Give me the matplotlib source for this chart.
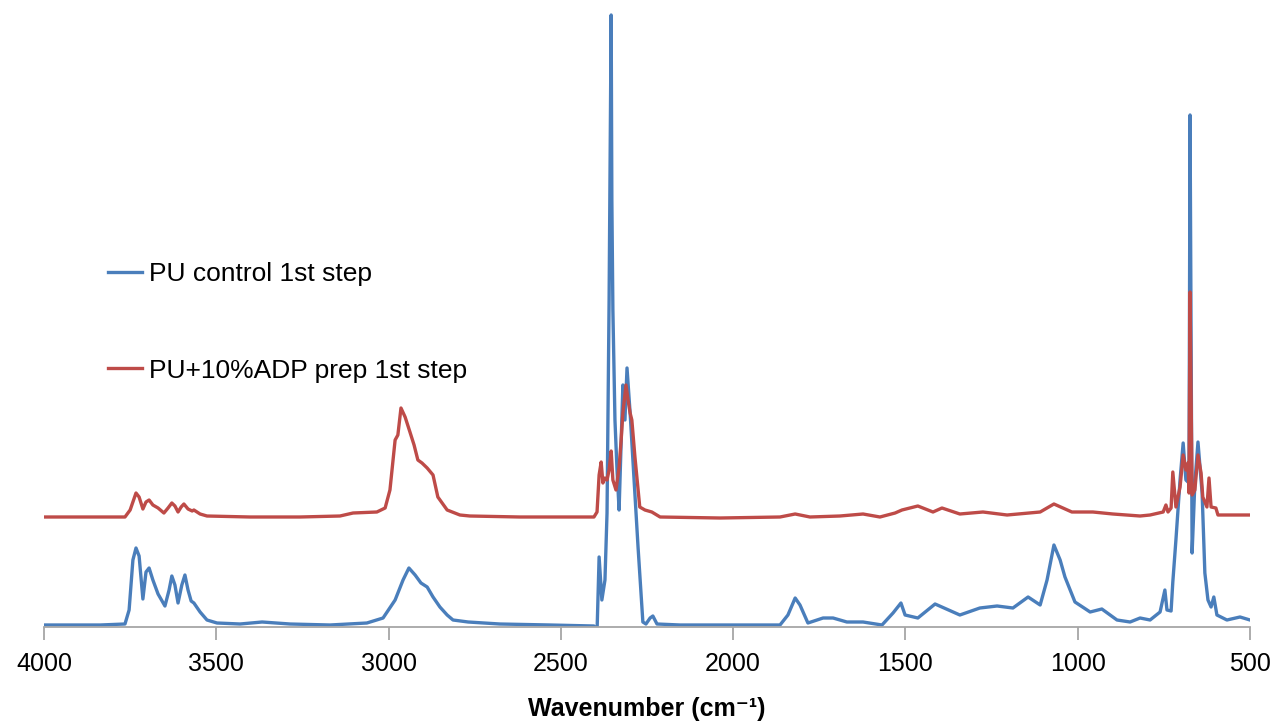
import matplotlib
matplotlib.use('Agg')
import matplotlib.pyplot as plt
import numpy as np

# FTIR spectra (wavenumber cm-1, absorbance a.u.)
wn_control = [4000, 3837, 3765, 3753, 3742, 3733, 3724, 3718, 3713, 3704, 3695, 3684, 3669, 3649,
              3637, 3629, 3620, 3611, 3600, 3591, 3582, 3573, 3565, 3547, 3527, 3498, 3431, 3367,
              3286, 3170, 3063, 3016, 2981, 2958, 2941, 2923, 2906, 2888, 2871, 2851, 2830, 2813,
              2769, 2677, 2531, 2404, 2395, 2389, 2381, 2372, 2366, 2360, 2354, 2352, 2349, 2343,
              2337, 2331, 2325, 2320, 2314, 2308, 2299, 2291, 2276, 2262, 2253, 2241, 2233, 2221,
              2154, 2038, 1922, 1864, 1841, 1820, 1806, 1783, 1739, 1710, 1670, 1623, 1568, 1536,
              1513, 1501, 1464, 1414, 1342, 1284, 1234, 1188, 1144, 1109, 1089, 1069, 1051, 1037,
              1008, 964, 930, 886, 848, 819, 790, 761, 747, 741, 729, 724, 715, 703, 694, 686,
              677, 674, 668, 660, 651, 639, 631, 622, 613, 605, 596, 567, 529, 500]
abs_control = [0.02, 0.02, 0.03, 0.17, 0.67, 0.79, 0.71, 0.47, 0.28, 0.55, 0.59, 0.47, 0.33, 0.21,
               0.37, 0.51, 0.42, 0.24, 0.42, 0.52, 0.37, 0.26, 0.24, 0.15, 0.07, 0.04, 0.03, 0.05,
               0.03, 0.02, 0.04, 0.09, 0.27, 0.47, 0.59, 0.52, 0.44, 0.40, 0.30, 0.20, 0.12, 0.07,
               0.05, 0.03, 0.02, 0.01, -0.05, 0.70, 0.27, 0.47, 1.14, 3.27, 6.12, 4.27, 3.17, 2.07,
               1.57, 1.17, 1.87, 2.42, 2.07, 2.59, 2.14, 1.67, 0.80, 0.05, 0.03, 0.09, 0.11, 0.03,
               0.02, 0.02, 0.02, 0.02, 0.12, 0.29, 0.22, 0.04, 0.09, 0.09, 0.05, 0.05, 0.02, 0.14,
               0.24, 0.12, 0.09, 0.23, 0.12, 0.19, 0.21, 0.19, 0.30, 0.22, 0.47, 0.82, 0.67, 0.50,
               0.25, 0.15, 0.18, 0.07, 0.05, 0.09, 0.07, 0.15, 0.37, 0.17, 0.16, 0.45, 0.87, 1.47,
               1.84, 1.47, 1.44, 5.12, 0.74, 1.44, 1.85, 1.34, 0.54, 0.27, 0.20, 0.30, 0.12, 0.07,
               0.10, 0.07]

wn_adp = [4000, 3765, 3750, 3733, 3724, 3713, 3704, 3695, 3684, 3669, 3652, 3640, 3629, 3620,
          3611, 3602, 3594, 3582, 3570, 3565, 3547, 3527, 3402, 3257, 3141, 3103, 3034, 3010,
          2996, 2981, 2973, 2964, 2952, 2938, 2926, 2915, 2903, 2888, 2871, 2857, 2830, 2793,
          2764, 2619, 2404, 2395, 2389, 2383, 2378, 2372, 2366, 2360, 2354, 2349, 2340, 2331,
          2325, 2320, 2311, 2305, 2299, 2294, 2285, 2271, 2256, 2236, 2212, 2038, 1864, 1820,
          1777, 1690, 1623, 1574, 1530, 1510, 1464, 1420, 1394, 1342, 1275, 1205, 1109, 1069,
          1017, 956, 898, 819, 790, 752, 744, 738, 729, 724, 715, 703, 694, 686, 680, 677,
          674, 668, 660, 651, 642, 637, 625, 619, 613, 599, 593, 500]
abs_adp = [1.10, 1.10, 1.17, 1.34, 1.30, 1.18, 1.25, 1.27, 1.22, 1.19, 1.14, 1.19, 1.24, 1.21,
           1.15, 1.20, 1.23, 1.18, 1.16, 1.17, 1.13, 1.11, 1.10, 1.10, 1.11, 1.14, 1.15, 1.19,
           1.37, 1.87, 1.92, 2.19, 2.10, 1.95, 1.82, 1.67, 1.64, 1.59, 1.52, 1.30, 1.17, 1.12,
           1.11, 1.10, 1.10, 1.15, 1.52, 1.65, 1.44, 1.49, 1.47, 1.57, 1.76, 1.47, 1.37, 1.60,
           1.87, 2.14, 2.42, 2.27, 2.14, 2.07, 1.70, 1.20, 1.17, 1.15, 1.10, 1.09, 1.10, 1.13,
           1.10, 1.11, 1.13, 1.10, 1.14, 1.17, 1.21, 1.15, 1.19, 1.13, 1.15, 1.12, 1.15, 1.23,
           1.15, 1.15, 1.13, 1.11, 1.12, 1.15, 1.22, 1.15, 1.19, 1.55, 1.20, 1.40, 1.72, 1.57,
           1.64, 1.34, 3.35, 1.32, 1.37, 1.72, 1.54, 1.30, 1.20, 1.49, 1.20, 1.19, 1.12, 1.12]

labels = ['PU control 1st step', 'PU+10%ADP prep 1st step']
xticks = [4000, 3500, 3000, 2500, 2000, 1500, 1000, 500]

fig = plt.figure(figsize=(12.76, 7.28), dpi=100)
ax = fig.add_axes([44/1276, 1-627/728, 1206/1276, 620/728])

ax.plot(wn_control, abs_control, color='#4a7ebb', lw=2.4, label=labels[0], solid_joinstyle='round')
ax.plot(wn_adp, abs_adp, color='#be4b48', lw=2.4, label=labels[1], solid_joinstyle='round')

ax.set_xlim(4000, 500)
ax.set_ylim(0, 6.2)
ax.set_yticks([])
for s in ['left', 'right', 'top']:
    ax.spines[s].set_visible(False)
ax.spines['bottom'].set_color('#a6a6a6')
ax.spines['bottom'].set_linewidth(1.3)
ax.set_xticks(xticks)
ax.tick_params(axis='x', direction='out', length=9, width=1.3, color='#a6a6a6',
               labelsize=18, pad=9)
for t in ax.get_xticklabels():
    t.set_family(['Liberation Sans', 'DejaVu Sans'])

ax.set_xlabel('Wavenumber (cm⁻¹)', fontsize=18, fontweight='bold',
              family=['Liberation Sans', 'DejaVu Sans'], labelpad=15)

leg = ax.legend(loc='upper left', bbox_to_anchor=(108/1276, 1-262/728),
                bbox_transform=fig.transFigure, frameon=False,
                handlelength=1.3, handletextpad=0.25, labelspacing=2.75,
                borderpad=0, borderaxespad=0, prop={'family': ['Liberation Sans', 'DejaVu Sans'], 'size': 19})

fig.savefig('out.png', dpi=100)
